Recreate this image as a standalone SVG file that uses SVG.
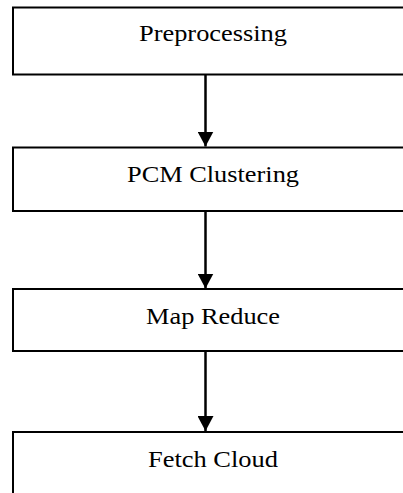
<svg xmlns="http://www.w3.org/2000/svg" width="403" height="493" viewBox="0 0 403 493">
<style>
.box{fill:#fff;stroke:#000;stroke-width:2}
.lbl{font-family:"Liberation Serif","Times New Roman",serif;font-size:23px;fill:#000;text-anchor:middle}
.conn{stroke:#000;stroke-width:2.5;fill:none}
</style>
<defs>
<marker id="ah" markerUnits="userSpaceOnUse" markerWidth="16" markerHeight="16" viewBox="0 0 16 16" refX="15" refY="8" orient="auto">
<path d="M0,0 L15,8 L0,16 Z" fill="#000"/>
</marker>
</defs>
<rect width="403" height="493" fill="#fff"/>
<g id="connectors">
<line class="conn" x1="205.5" y1="75" x2="205.5" y2="146.5" marker-end="url(#ah)"/>
<line class="conn" x1="205.5" y1="212" x2="205.5" y2="288.5" marker-end="url(#ah)"/>
<line class="conn" x1="205.5" y1="352" x2="205.5" y2="431" marker-end="url(#ah)"/>
</g>
<g id="preprocessing">
<rect class="box" x="13" y="7.5" width="400" height="67"/>
<text class="lbl" x="213" y="40.5" textLength="148" lengthAdjust="spacingAndGlyphs">Preprocessing</text>
</g>
<g id="pcm-clustering">
<rect class="box" x="13" y="147.5" width="400" height="63.5"/>
<text class="lbl" x="213" y="181.5" textLength="172" lengthAdjust="spacingAndGlyphs">PCM Clustering</text>
</g>
<g id="map-reduce">
<rect class="box" x="13" y="289" width="400" height="62"/>
<text class="lbl" x="213" y="324" textLength="134" lengthAdjust="spacingAndGlyphs">Map Reduce</text>
</g>
<g id="fetch-cloud">
<rect class="box" x="13" y="432" width="400" height="80"/>
<text class="lbl" x="213" y="466.5" textLength="130" lengthAdjust="spacingAndGlyphs">Fetch Cloud</text>
</g>
</svg>
